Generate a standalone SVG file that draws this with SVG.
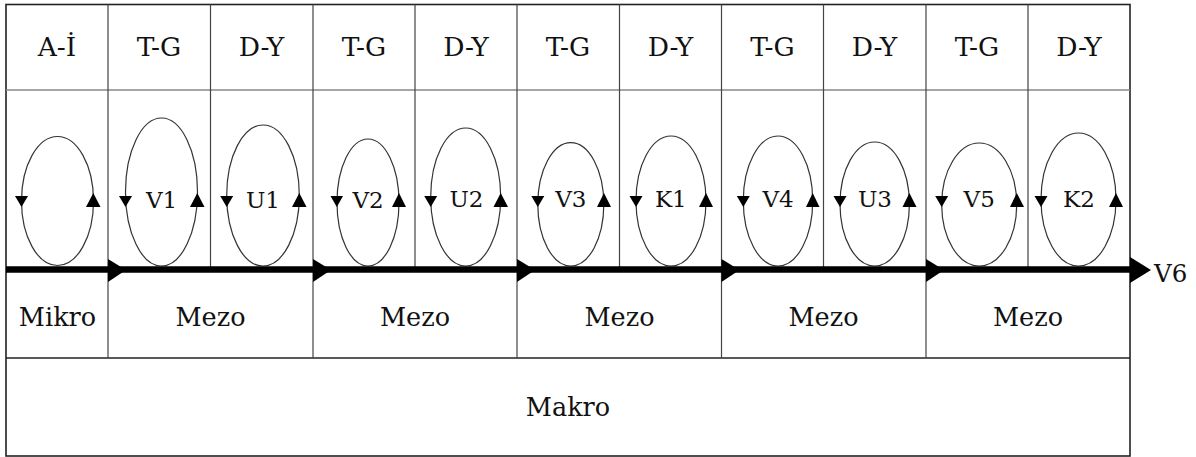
<svg xmlns="http://www.w3.org/2000/svg" width="1196" height="457" viewBox="0 0 1196 457">
<style>
.bg{fill:#fff}
.frame{fill:none;stroke:#222;stroke-width:1.6}
.grid{stroke:#444;stroke-width:1.2;fill:none}
.hgrid{stroke:#888;stroke-width:1.4;fill:none}
.t{fill:#111;text-anchor:middle;font-family:"DejaVu Serif","Liberation Serif",serif}
.h{font-size:26.5px}
.b{font-size:25.5px}
.l{font-size:23px}
.loop{fill:none;stroke:#333;stroke-width:1.2}
.ah{fill:#000}
.axis{stroke:#000;stroke-width:6.5}
</style>
<rect class="bg" x="0" y="0" width="1196" height="457"/>
<g id="grid">
<rect class="frame" x="6" y="4.5" width="1124" height="451.5"/>
<line class="hgrid" x1="6" y1="90" x2="1130" y2="90"/>
<line class="frame" x1="6" y1="358" x2="1130" y2="358"/>
<g class="grid">
<line x1="108" y1="4.5" x2="108" y2="358"/>
<line x1="210.5" y1="4.5" x2="210.5" y2="269"/>
<line x1="313" y1="4.5" x2="313" y2="358"/>
<line x1="415" y1="4.5" x2="415" y2="269"/>
<line x1="517" y1="4.5" x2="517" y2="358"/>
<line x1="619.5" y1="4.5" x2="619.5" y2="269"/>
<line x1="721.5" y1="4.5" x2="721.5" y2="358"/>
<line x1="823.5" y1="4.5" x2="823.5" y2="269"/>
<line x1="926" y1="4.5" x2="926" y2="358"/>
<line x1="1028" y1="4.5" x2="1028" y2="269"/>
</g>
</g>
<g id="headers">
<text class="t h" x="57" y="56">A-İ</text>
<text class="t h" x="159" y="56">T-G</text>
<text class="t h" x="261.5" y="56">D-Y</text>
<text class="t h" x="364" y="56">T-G</text>
<text class="t h" x="466" y="56">D-Y</text>
<text class="t h" x="568" y="56">T-G</text>
<text class="t h" x="670.5" y="56">D-Y</text>
<text class="t h" x="772.5" y="56">T-G</text>
<text class="t h" x="874.5" y="56">D-Y</text>
<text class="t h" x="977" y="56">T-G</text>
<text class="t h" x="1079" y="56">D-Y</text>
</g>
<g id="loops">
<g id="loop-ai"><ellipse class="loop" cx="57.5" cy="201" rx="36" ry="64.5"/><polygon class="ah" points="15,196 28,196 21.5,207"/><polygon class="ah" points="86,207 100.5,207 93.3,193"/></g>
<g id="loop-v1"><ellipse class="loop" cx="161.5" cy="192" rx="36" ry="74"/><polygon class="ah" points="119,196 132,196 125.5,207"/><polygon class="ah" points="190,207 204.5,207 197.3,193"/><text class="t l" x="161.5" y="208">V1</text></g>
<g id="loop-u1"><ellipse class="loop" cx="263" cy="195.5" rx="36.3" ry="70.5"/><polygon class="ah" points="220.2,196 233.2,196 226.7,207"/><polygon class="ah" points="292,207 306.5,207 299.3,193"/><text class="t l" x="263" y="208">U1</text></g>
<g id="loop-v2"><ellipse class="loop" cx="368" cy="202.5" rx="31" ry="63.5"/><polygon class="ah" points="330.5,196 343,196 336.8,207"/><polygon class="ah" points="392,207 406,207 399,193"/><text class="t l" x="368" y="208">V2</text></g>
<g id="loop-u2"><ellipse class="loop" cx="465.7" cy="197" rx="35" ry="69"/><polygon class="ah" points="424.2,196 437.2,196 430.7,207"/><polygon class="ah" points="493.5,207 508,207 500.7,193"/><text class="t l" x="466.5" y="207">U2</text></g>
<g id="loop-v3"><ellipse class="loop" cx="570.8" cy="204.3" rx="33" ry="61.7"/><polygon class="ah" points="531.3,196 544.3,196 537.8,207"/><polygon class="ah" points="597,207 611,207 604,193"/><text class="t l" x="570.8" y="207">V3</text></g>
<g id="loop-k1"><ellipse class="loop" cx="671" cy="201" rx="35" ry="65"/><polygon class="ah" points="629.5,196 642.5,196 636,207"/><polygon class="ah" points="699,207 713,207 706,193"/><text class="t l" x="670.8" y="207">K1</text></g>
<g id="loop-v4"><ellipse class="loop" cx="778" cy="201" rx="34.7" ry="65"/><polygon class="ah" points="736.8,196 749.8,196 743.3,207"/><polygon class="ah" points="806,207 819.5,207 812.7,193"/><text class="t l" x="778" y="207">V4</text></g>
<g id="loop-u3"><ellipse class="loop" cx="874.7" cy="204" rx="34.7" ry="62"/><polygon class="ah" points="833.5,196 846.5,196 840,207"/><polygon class="ah" points="902.5,207 916.5,207 909.4,193"/><text class="t l" x="875" y="207">U3</text></g>
<g id="loop-v5"><ellipse class="loop" cx="979.2" cy="204.5" rx="37.5" ry="61.5"/><polygon class="ah" points="935.2,196 948.2,196 941.7,207"/><polygon class="ah" points="1010,207 1024,207 1016.8,193"/><text class="t l" x="979.2" y="207">V5</text></g>
<g id="loop-k2"><ellipse class="loop" cx="1078.5" cy="199.5" rx="37.5" ry="66.5"/><polygon class="ah" points="1034.5,196 1047.5,196 1041,207"/><polygon class="ah" points="1109,207 1123,207 1116,193"/><text class="t l" x="1079" y="207">K2</text></g>
</g>
<g id="connectors">
<line class="axis" x1="6" y1="269.5" x2="1134" y2="269.5"/>
<polygon class="ah" points="108,259 108,282 126,270"/>
<polygon class="ah" points="313,259 313,282 331,270"/>
<polygon class="ah" points="517,259 517,282 535,270"/>
<polygon class="ah" points="721.5,259 721.5,282 739.5,270"/>
<polygon class="ah" points="926,259 926,282 944,270"/>
<polygon class="ah" points="1130,257 1130,283 1151,270"/>
</g>
<g id="v6"><text class="t" style="text-anchor:start;font-size:24.5px" x="1154" y="282">V6</text></g>
<g id="levels">
<text class="t b" x="57.5" y="326">Mikro</text>
<text class="t b" x="210.5" y="326">Mezo</text>
<text class="t b" x="415" y="326">Mezo</text>
<text class="t b" x="619.5" y="326">Mezo</text>
<text class="t b" x="823.5" y="326">Mezo</text>
<text class="t b" x="1028" y="326">Mezo</text>
<text class="t b" x="568" y="416">Makro</text>
</g>
</svg>
